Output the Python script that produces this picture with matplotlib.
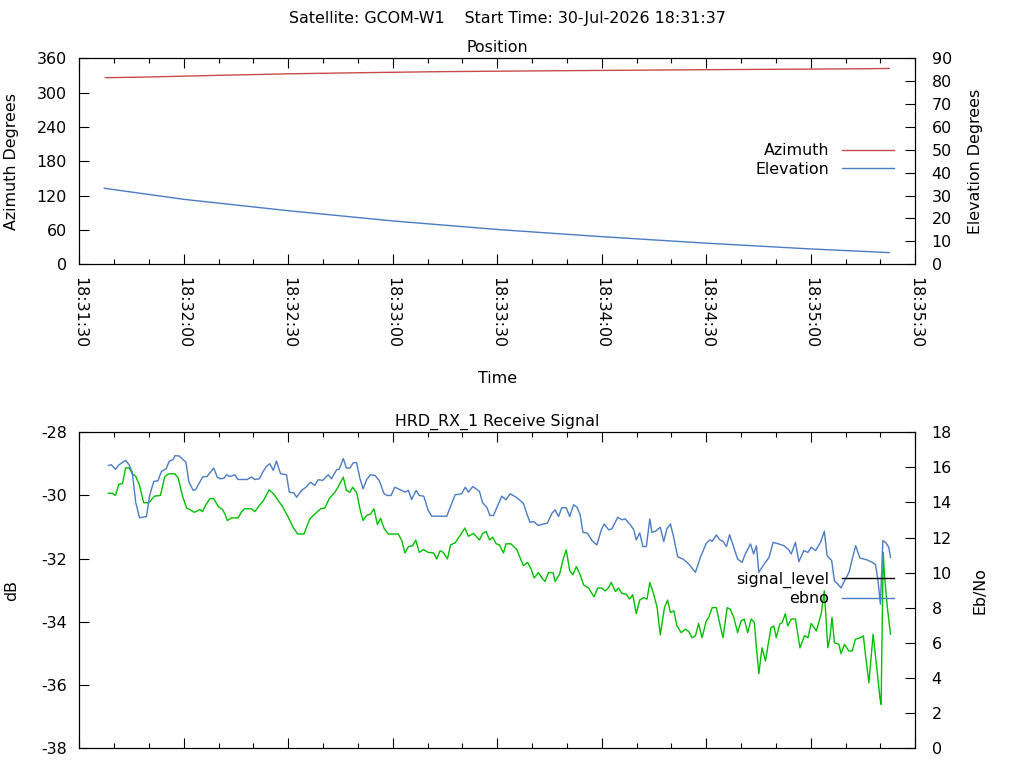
import datetime as dt
import matplotlib
matplotlib.use("Agg")
import matplotlib.pyplot as plt
import matplotlib.dates as mdates
from matplotlib.lines import Line2D

plt.rcParams["font.family"] = ["DejaVu Sans"]
plt.rcParams["font.size"] = 11.4
plt.rcParams["axes.titlesize"] = 11.4
plt.rcParams["axes.unicode_minus"] = False

# time axis: seconds after 18:31:30
base = dt.datetime(2026, 7, 30, 18, 31, 30)
title_text = "Satellite: GCOM-W1    Start Time: 30-Jul-2026 18:31:37"

# position
az_t = [7.5, 17.5, 29.9, 43.4, 60.6, 80.7, 104.5, 135.8, 175.5, 225.8, 232.5]
az_deg = [326.1, 327.0, 328.8, 330.7, 332.9, 334.8, 336.7, 338.2, 339.9, 341.7, 342.3]
el_t = [7.2, 29.9, 60.0, 90.2, 120.9, 149.6, 180.2, 209.9, 232.5]
el_deg = [33.2, 28.4, 23.4, 18.9, 15.1, 12.1, 9.2, 6.7, 5.1]

# receive signal
sig_t = [8.4, 9.5, 10.4, 11.4, 12.4, 13.3, 14.3, 15.2, 16.2, 17.3,
         18.5, 20.0, 21.6, 23.3, 24.5, 25.5, 27.4, 28.4, 29.6, 30.8,
         31.7, 32.9, 33.6, 34.6, 35.4, 36.3, 37.5, 38.6, 39.9, 41.1,
         41.8, 42.5, 43.7, 45.6, 46.6, 47.5, 49.4, 50.4, 51.7, 53.0,
         54.5, 55.8, 57.1, 58.3, 60.0, 61.4, 62.7, 64.5, 66.2, 67.2,
         69.3, 70.5, 71.8, 73.4, 74.8, 75.8, 76.7, 77.7, 78.5, 79.6,
         80.8, 81.5, 82.5, 83.6, 84.6, 85.6, 86.5, 87.5, 88.7, 91.6,
         92.6, 93.5, 94.5, 95.7, 96.6, 97.6, 98.8, 100.2, 101.7, 102.6,
         103.6, 104.5, 105.7, 106.6, 107.9, 109.3, 110.7, 111.7, 113.2, 114.9,
         115.8, 116.8, 117.8, 118.7, 119.7, 120.6, 121.8, 122.5, 123.9, 125.6,
         126.6, 127.5, 128.7, 129.6, 130.6, 131.8, 132.8, 133.7, 134.7, 136.0,
         136.6, 137.9, 138.8, 139.8, 140.8, 141.7, 142.7, 143.8, 144.8, 146.2,
         147.8, 148.8, 150.0, 151.0, 152.0, 152.7, 153.9, 154.8, 155.8, 157.0,
         158.0, 158.9, 159.9, 160.9, 162.0, 163.0, 163.8, 164.9, 165.9, 166.8,
         168.0, 168.9, 169.7, 170.7, 171.6, 172.8, 174.0, 175.0, 175.9, 176.9,
         177.8, 178.8, 180.0, 180.7, 181.7, 182.9, 183.9, 184.8, 186.0, 186.9,
         187.9, 189.0, 190.0, 190.9, 191.9, 192.9, 193.8, 194.4, 195.1, 196.0,
         197.0, 197.7, 198.6, 199.4, 200.1, 201.1, 201.8, 202.7, 203.4, 204.4,
         205.6, 206.9, 208.2, 209.2, 210.1, 211.6, 213.0, 213.9, 214.9, 215.5,
         216.1, 216.8, 218.1, 218.7, 219.7, 220.9, 221.9, 222.8, 224.3, 225.1,
         225.7, 226.7, 227.9, 228.9, 229.9, 230.2, 230.5, 230.8, 231.2, 232.0,
         232.9]
sig_db = [-29.93, -29.93, -30.00, -29.64, -29.63, -29.13, -29.12, -29.31, -29.39, -29.68,
          -30.23, -30.23, -30.02, -30.00, -29.42, -29.32, -29.31, -29.45, -30.00, -30.40,
          -30.44, -30.53, -30.51, -30.44, -30.51, -30.30, -30.10, -30.10, -30.35, -30.44,
          -30.58, -30.79, -30.71, -30.71, -30.51, -30.42, -30.42, -30.51, -30.32, -30.14,
          -29.82, -29.95, -30.16, -30.34, -30.69, -31.01, -31.22, -31.22, -30.74, -30.63,
          -30.42, -30.40, -30.09, -29.90, -29.63, -29.42, -29.84, -29.90, -29.74, -29.90,
          -30.53, -30.79, -30.63, -30.59, -30.42, -30.92, -30.72, -31.04, -31.22, -31.22,
          -31.43, -31.82, -31.62, -31.59, -31.41, -31.80, -31.71, -31.80, -31.82, -32.01,
          -31.75, -31.80, -32.01, -31.56, -31.50, -31.27, -31.03, -31.29, -31.20, -31.41,
          -31.20, -31.14, -31.41, -31.32, -31.53, -31.56, -31.82, -31.53, -31.53, -31.71,
          -31.98, -32.22, -32.12, -32.30, -32.61, -32.44, -32.61, -32.72, -32.44, -32.44,
          -32.72, -32.49, -32.06, -31.72, -32.38, -32.51, -32.25, -32.51, -32.83, -32.93,
          -33.21, -32.93, -32.93, -33.02, -32.91, -32.75, -33.04, -32.93, -33.10, -33.12,
          -33.28, -33.14, -33.74, -33.31, -33.23, -33.28, -32.75, -33.12, -33.55, -34.41,
          -33.55, -33.31, -33.70, -33.65, -34.13, -34.34, -34.23, -34.31, -34.50, -34.44,
          -34.05, -34.50, -33.97, -33.86, -33.55, -33.55, -34.07, -34.50, -33.55, -33.60,
          -33.86, -34.34, -33.97, -33.91, -34.34, -33.91, -34.02, -34.82, -35.64, -34.82,
          -35.24, -34.76, -34.18, -34.13, -34.50, -34.07, -34.02, -33.74, -34.13, -33.91,
          -33.91, -34.82, -34.44, -34.50, -34.05, -34.29, -33.74, -33.02, -34.82, -34.50,
          -33.86, -34.66, -34.71, -35.01, -34.71, -34.92, -34.92, -34.55, -34.50, -34.44,
          -35.03, -35.93, -34.39, -35.40, -36.45, -36.61, -34.18, -31.80, -32.59, -33.55,
          -34.39]

ebno_t = [8.4, 9.2, 10.4, 11.4, 13.3, 14.3, 15.2, 16.2, 17.3, 19.3,
          20.2, 21.4, 22.6, 23.6, 25.0, 25.8, 26.9, 27.5, 28.7, 30.6,
          31.5, 32.7, 33.4, 35.4, 36.7, 38.6, 39.6, 40.5, 41.6, 42.3,
          43.0, 43.7, 44.6, 45.6, 47.0, 48.2, 49.4, 50.4, 51.7, 52.8,
          53.8, 54.7, 55.7, 56.6, 57.8, 59.5, 60.3, 61.6, 62.4, 63.8,
          65.1, 66.4, 67.6, 68.6, 69.9, 71.5, 72.4, 73.9, 74.6, 75.8,
          76.7, 77.7, 78.7, 79.6, 80.6, 81.5, 82.5, 83.6, 84.9, 86.1,
          87.5, 88.4, 89.5, 90.6, 92.1, 93.5, 94.5, 95.4, 96.7, 97.6,
          98.9, 100.2, 101.2, 103.6, 105.5, 106.9, 107.9, 109.8, 110.8, 111.7,
          113.0, 114.9, 115.8, 117.0, 117.9, 118.9, 121.3, 122.5, 123.7, 125.4,
          127.5, 128.5, 129.4, 130.4, 131.8, 133.3, 134.4, 135.7, 136.6, 137.6,
          138.5, 139.8, 140.8, 141.9, 142.9, 143.8, 144.6, 145.9, 147.2, 148.6,
          149.8, 150.7, 152.0, 152.9, 154.6, 155.8, 156.7, 158.2, 159.2, 159.9,
          160.9, 161.8, 162.8, 163.8, 164.4, 165.4, 166.8, 167.8, 168.7, 169.7,
          170.6, 171.8, 173.3, 174.5, 175.6, 176.9, 178.3, 180.0, 181.0, 181.7,
          182.9, 183.9, 184.8, 185.8, 186.7, 187.9, 189.0, 190.3, 191.2, 192.7,
          193.6, 194.4, 195.1, 196.3, 198.0, 199.2, 200.8, 202.3, 203.7, 204.4,
          205.6, 206.6, 208.0, 209.2, 210.1, 211.4, 212.8, 213.9, 214.7, 216.0,
          216.8, 217.8, 218.7, 219.7, 221.0, 221.9, 222.9, 224.1, 226.2, 227.7,
          228.6, 229.3, 230.0, 230.7, 231.5, 232.4, 232.9]
ebno = [16.11, 16.15, 15.89, 16.15, 16.40, 16.15, 15.73, 14.02, 13.13, 13.20,
        14.40, 15.20, 15.24, 15.77, 15.93, 16.34, 16.44, 16.67, 16.65, 16.30,
        15.16, 14.69, 14.73, 15.45, 15.49, 15.96, 15.45, 15.35, 15.39, 15.58,
        15.49, 15.50, 15.58, 15.31, 15.31, 15.31, 15.45, 15.31, 15.35, 15.77,
        16.07, 16.21, 15.83, 16.36, 15.64, 15.58, 14.59, 14.55, 14.30, 14.69,
        14.87, 15.16, 14.97, 15.30, 15.26, 15.58, 15.35, 15.87, 15.89, 16.50,
        15.96, 15.96, 16.27, 16.27, 15.35, 14.78, 15.30, 15.58, 15.54, 15.26,
        14.50, 14.40, 14.40, 14.87, 14.73, 14.59, 14.69, 14.17, 14.69, 14.40,
        14.36, 13.54, 13.22, 13.22, 13.22, 13.93, 14.44, 14.50, 14.87, 14.59,
        14.91, 14.63, 13.98, 13.73, 13.26, 13.26, 14.36, 14.15, 14.50, 14.30,
        13.96, 13.35, 12.87, 12.91, 12.69, 12.78, 12.82, 13.39, 13.58, 13.20,
        13.70, 13.70, 13.20, 13.87, 13.73, 13.30, 12.30, 12.25, 11.83, 11.58,
        12.40, 12.78, 12.44, 12.50, 13.16, 13.01, 13.07, 12.74, 12.44, 11.87,
        12.27, 11.49, 11.49, 13.07, 12.30, 12.36, 12.59, 11.77, 12.50, 12.78,
        12.06, 10.91, 10.78, 10.59, 10.34, 10.02, 10.87, 11.67, 11.87, 11.79,
        12.15, 11.87, 11.79, 11.49, 12.17, 11.45, 10.78, 10.59, 11.07, 11.64,
        11.07, 11.54, 10.02, 10.40, 10.87, 11.73, 11.64, 11.54, 11.30, 11.07,
        11.73, 10.63, 11.26, 11.16, 11.45, 11.26, 11.73, 12.36, 10.97, 10.69,
        9.54, 9.35, 9.13, 9.54, 10.02, 10.78, 11.54, 10.84, 10.73, 10.59,
        10.46, 9.54, 8.21, 11.83, 11.73, 11.45, 10.87]

RED = "#c84b4b"
BLUE = "#4a7cc4"
GREEN = "#00c000"


def to_time(secs):
    return [base + dt.timedelta(seconds=s) for s in secs]


def style_time_axis(ax, labels=True):
    ax.set_xlim(base, base + dt.timedelta(seconds=240))
    ax.xaxis.set_major_locator(mdates.SecondLocator(bysecond=[0, 30]))
    ax.xaxis.set_minor_locator(mdates.SecondLocator(bysecond=[10, 20, 40, 50]))
    ax.xaxis.set_major_formatter(mdates.DateFormatter("%H:%M:%S"))
    ax.tick_params(axis="x", which="both", direction="in", top=True, width=0.8,
                   labelbottom=labels, labelrotation=-90, pad=9)
    ax.tick_params(axis="x", which="major", length=7)
    ax.tick_params(axis="x", which="minor", length=3.5)
    ax.tick_params(axis="y", direction="in", length=7, width=0.8, pad=9)
    for s in ax.spines.values():
        s.set_linewidth(0.8)


fig = plt.figure(figsize=(10.24, 7.68), dpi=100)
fig.text(0.4951, 0.9697, title_text, ha="center", va="baseline")

# --- Position ---
ax1 = fig.add_axes([0.0774, 0.6559, 0.8164, 0.2682])
(l_az,) = ax1.plot(to_time(az_t), az_deg, color=RED, lw=1.0, label="Azimuth")
ax1.set_ylim(0, 360)
ax1.set_yticks(range(0, 361, 60))
ax1.set_title("Position", pad=4.3)
ax1.set_ylabel("Azimuth Degrees")
ax1.yaxis.set_label_coords(-0.0718, 0.5)
ax1.set_xlabel("Time")
ax1.xaxis.set_label_coords(0.5, -0.52)
style_time_axis(ax1)

ax1b = ax1.twinx()
(l_el,) = ax1b.plot(to_time(el_t), el_deg, color=BLUE, lw=1.0, label="Elevation")
ax1b.set_ylim(0, 90)
ax1b.set_yticks(range(0, 91, 10))
ax1b.tick_params(axis="y", direction="in", length=7, width=0.8, pad=11.8)
ax1b.set_ylabel("Elevation Degrees")
ax1b.yaxis.set_label_coords(1.0634, 0.5)
ax1b.legend([l_az, l_el], ["Azimuth", "Elevation"], loc="center right",
            bbox_to_anchor=(0.975, 0.506), frameon=False, markerfirst=False,
            handlelength=3.3, handletextpad=0.8, labelspacing=0.2,
            borderpad=0, borderaxespad=0)

# --- Receive signal ---
ax2 = fig.add_axes([0.0774, 0.02565, 0.8164, 0.4115])
ax2.plot(to_time(sig_t), sig_db, color=GREEN, lw=1.0)
ax2.set_ylim(-38, -28)
ax2.set_yticks(range(-38, -27, 2))
ax2.set_title("HRD_RX_1 Receive Signal", pad=4.3)
ax2.set_ylabel("dB")
ax2.yaxis.set_label_coords(-0.0718, 0.5)
style_time_axis(ax2, labels=False)

ax2b = ax2.twinx()
(l_eb,) = ax2b.plot(to_time(ebno_t), ebno, color=BLUE, lw=1.0)
ax2b.set_ylim(0, 18)
ax2b.set_yticks(range(0, 19, 2))
ax2b.tick_params(axis="y", direction="in", length=7, width=0.8, pad=11.8)
ax2b.set_ylabel("Eb/No")
ax2b.yaxis.set_label_coords(1.069, 0.5)
sig_handle = Line2D([], [], color="black", lw=1.0)
ax2b.legend([sig_handle, l_eb], ["signal_level", "ebno"], loc="center right",
            bbox_to_anchor=(0.975, 0.504), frameon=False, markerfirst=False,
            handlelength=3.3, handletextpad=0.8, labelspacing=0.2,
            borderpad=0, borderaxespad=0)

fig.savefig("out.png", dpi=100)
